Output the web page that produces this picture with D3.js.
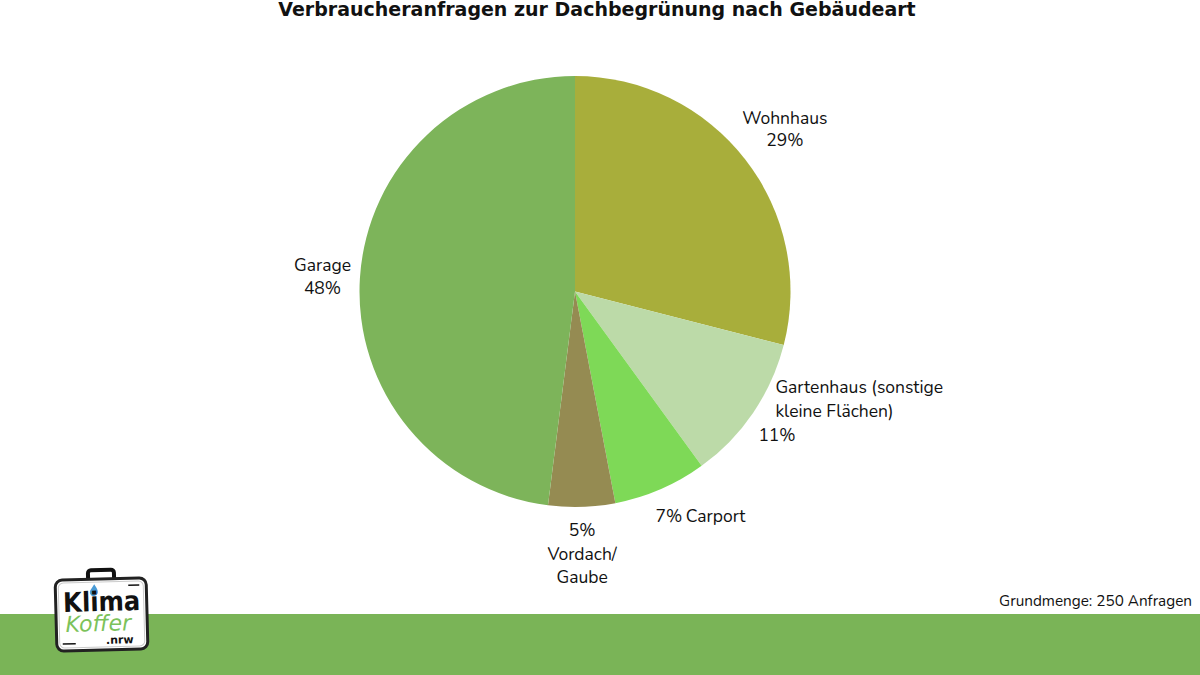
<!DOCTYPE html>
<html>
<head>
<meta charset="utf-8">
<script src="https://cdn.jsdelivr.net/npm/d3@7"></script>
<style>
  body { margin: 0; background: #fff; }
  svg { display: block; }
</style>
</head>
<body>
<svg id="chart" width="1200" height="675"></svg>
<script>
// -------------- DATA ----------------- //
const categories = ["Wohnhaus", "Gartenhaus (sonstige kleine Flächen)", "Carport", "Vordach/ Gaube", "Garage"];
const shares = [29, 11, 7, 5, 48];
const colors = ["#a8ae3b", "#bcdaa8", "#7ed957", "#958b52", "#7db45a"];
// label lines per slice (text only)
const labelLines = [
    ["Wohnhaus", "29%"],
    ["Gartenhaus (sonstige", "kleine Flächen)", "11%"],
    ["7%\u2009Carport"],
    ["5%", "Vordach/", "Gaube"],
    ["Garage", "48%"]
];

// -------------- LAYOUT ----------------- //
const W = 1200, H = 675;
const cx = 575, cy = 291.5, R = 215.5;
const labelFont = "Nunito, 'Noto Sans', Lato, sans-serif";

const svg = d3.select("#chart");

// title (cut off at top, like the slide)
svg.append("text")
    .attr("x", 597).attr("y", 16)
    .attr("text-anchor", "middle")
    .attr("font-family", "'DejaVu Sans', Verdana, sans-serif")
    .attr("font-weight", "bold")
    .attr("font-size", 19)
    .attr("fill", "#111")
    .text("Verbraucheranfragen zur Dachbegrünung nach Gebäudeart");

// -------------- PIE ----------------- //
const pie = d3.pie().sort(null).value(d => d);
const arcs = pie(shares);
const arc = d3.arc().innerRadius(0).outerRadius(R);
const labelArc = d3.arc().innerRadius(258).outerRadius(258);

const g = svg.append("g").attr("transform", `translate(${cx},${cy})`);
g.selectAll("path")
    .data(arcs)
    .join("path")
    .attr("d", arc)
    .attr("fill", (d, i) => colors[i]);

// label nudges relative to centroid on label ring
const nudge = [
    { dx: 6, dy: -9, anchor: "middle" },
    { dx: -13, dy: -44, anchor: "start" },
    { dx: 23, dy: -6, anchor: "middle" },
    { dx: -1, dy: -13, anchor: "middle" },
    { dx: 5, dy: -4, anchor: "middle" }
];
const lineH = [21.5, 24, 20, 23.5, 23];

arcs.forEach((d, i) => {
    const [lx, ly] = labelArc.centroid(d);
    const n = nudge[i];
    const t = g.append("text")
        .attr("font-family", labelFont)
        .attr("font-size", 17.5)
        .attr("fill", "#111")
        .attr("text-anchor", n.anchor);
    labelLines[i].forEach((line, k) => {
        const ts = t.append("tspan")
            .attr("x", lx + n.dx)
            .attr("y", ly + n.dy + k * lineH[i])
            .text(line);
        // Gartenhaus: percentage line sits a bit left
        if (i === 1 && k === 2) ts.attr("x", lx + n.dx - 17);
    });
});

// -------------- FOOTER ----------------- //
svg.append("rect")
    .attr("x", 0).attr("y", 614)
    .attr("width", W).attr("height", H - 614)
    .attr("fill", "#7ab457");

svg.append("text")
    .attr("x", 1192).attr("y", 606)
    .attr("text-anchor", "end")
    .attr("font-family", labelFont)
    .attr("font-size", 15.3)
    .attr("fill", "#111")
    .text("Grundmenge: 250 Anfragen");

// logo: suitcase
const logo = svg.append("g").attr("transform", "translate(101,614) rotate(-1.5)");
logo.append("rect")
    .attr("x", -12).attr("y", -44).attr("width", 26).attr("height", 12)
    .attr("rx", 3).attr("fill", "none").attr("stroke", "#111").attr("stroke-width", 4);
logo.append("rect")
    .attr("x", -45).attr("y", -35).attr("width", 91).attr("height", 71)
    .attr("rx", 7).attr("fill", "#fff").attr("stroke", "#222").attr("stroke-width", 3);
logo.append("rect")
    .attr("x", -42).attr("y", -32).attr("width", 85).attr("height", 65)
    .attr("rx", 5).attr("fill", "none").attr("stroke", "#ccc").attr("stroke-width", 1);
logo.append("path")
    .attr("d", "M -6,-30 C -3,-25 -1,-22 -4,-19 C -8,-16 -12,-20 -10,-24 Z")
    .attr("fill", "#4a9bd6");
logo.append("text")
    .attr("x", 1).attr("y", -3)
    .attr("text-anchor", "middle")
    .attr("font-family", "'DejaVu Sans Condensed', 'DejaVu Sans', sans-serif")
    .attr("font-weight", "bold")
    .attr("font-size", 27)
    .attr("fill", "#111")
    .text("Klima");
logo.append("text")
    .attr("x", -3).attr("y", 17)
    .attr("text-anchor", "middle")
    .attr("font-family", "'DejaVu Sans', sans-serif")
    .attr("font-style", "italic")
    .attr("font-size", 22)
    .attr("fill", "#7cc25a")
    .text("Koffer");
logo.append("text")
    .attr("x", 18).attr("y", 30)
    .attr("text-anchor", "middle")
    .attr("font-family", "'DejaVu Sans', sans-serif")
    .attr("font-weight", "bold")
    .attr("font-size", 11)
    .attr("fill", "#111")
    .text(".nrw");
logo.append("line")
    .attr("x1", -39).attr("x2", -26).attr("y1", 29).attr("y2", 29)
    .attr("stroke", "#111").attr("stroke-width", 1.5);
logo.append("line")
    .attr("x1", 28).attr("x2", 39).attr("y1", -28).attr("y2", -28)
    .attr("stroke", "#111").attr("stroke-width", 1.5);
</script>
</body>
</html>
